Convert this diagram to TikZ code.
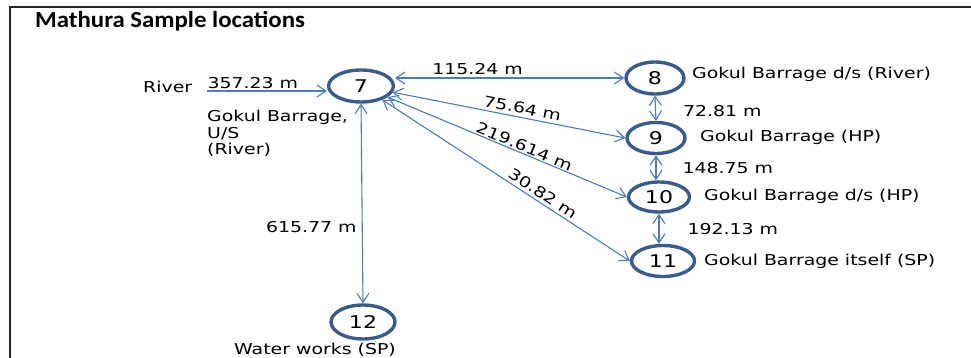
\documentclass[tikz,border=0pt]{standalone}
\usepackage{fontspec}
\setmainfont{DejaVu Sans}[FakeStretch=1.26]
\newfontfamily\titlefont{Carlito}[FakeStretch=1.08]
\usetikzlibrary{shapes.geometric,arrows.meta}
\definecolor{locblue}{HTML}{385D8A}
\definecolor{linkblue}{HTML}{4A7EBB}

\begin{document}
\begin{tikzpicture}[x=1pt,y=-1pt,
    loc/.style={ellipse,draw=locblue,line width=3.4pt,minimum width=58pt,minimum height=31pt,inner sep=0pt,font=\fontsize{17.5}{17.5}\selectfont},
    link/.style={draw=linkblue,line width=1.1pt,{Straight Barb[length=9pt,width=12pt]}-{Straight Barb[length=9pt,width=12pt]}},
    lbl/.style={font=\fontsize{15}{16.5}\selectfont,inner sep=0pt}]
  \useasboundingbox (0,0) rectangle (971,358);
  \draw[line width=1.6pt,black!85] (10,358) -- (10,7) -- (971,7);
  \node[anchor=base west,inner sep=0pt,font=\titlefont\bfseries\fontsize{23}{23}\selectfont] (title) at (35,28) {Mathura Sample locations};

  % sample points
  \node[loc,minimum width=64.8pt,minimum height=32pt] (n7) at (361,86) {7};
  \node[loc,minimum height=32pt] (n8) at (655,78) {8};
  \node[loc] (n9) at (656,138) {9};
  \node[loc,minimum width=61pt,minimum height=30pt] (n10) at (659,197) {10};
  \node[loc,minimum width=63pt] (n11) at (663,261) {11};
  \node[loc,minimum width=64pt,minimum height=34pt] (n12) at (363,322) {12};

  % names
  \node[lbl,anchor=west] (river) at (143,87) {River};
  \node[lbl,anchor=north west,align=left] (name7) at (207,110) {Gokul Barrage,\\U/S\\(River)};
  \node[lbl,anchor=west] (name8) at (692,74) {Gokul Barrage d/s (River)};
  \node[lbl,anchor=west] (name9) at (700,137) {Gokul Barrage (HP)};
  \node[lbl,anchor=west] (name10) at (704,196) {Gokul Barrage d/s (HP)};
  \node[lbl,anchor=west] (name11) at (704,261) {Gokul Barrage itself (SP)};
  \node[lbl,anchor=west] (name12) at (234,350) {Water works (SP)};

  % distances
  \coordinate (rivend) at (207,91);
  \draw[link,-{Straight Barb[length=9pt,width=12pt]}] (rivend) -- (n7.west |- rivend)
    node[lbl,pos=0,anchor=base west,yshift=2pt] {357.23 m};
  \draw[link] (n8.west) -- (n8.west -| n7.east) node[lbl,pos=0.64,above=3pt] {115.24 m};
  \draw[link] (n7) -- (n9.west) node[lbl,pos=0.55,sloped,above=3pt] {75.64 m};
  \draw[link] (n7) -- (n10.west) node[lbl,pos=0.56,sloped,above=1pt] {219.614 m};
  \draw[link] (n7) -- (n11.west) node[lbl,pos=0.63,sloped,above=3pt] {30.82 m};
  \draw[link] (n7.south) -- (n12.north) node[lbl,pos=0.62,left=5pt] {615.77 m};
  \draw[link] (n8.south) -- (n9.north) node[lbl,midway,right=27pt,yshift=-3pt] {72.81 m};
  \draw[link] (n9.south) -- (n9.south |- n10.north) node[lbl,midway,right=26pt] {148.75 m};
  \draw[link] (n10.south) -- (n10.south |- n11.north) node[lbl,midway,right=28pt] {192.13 m};
\end{tikzpicture}
\end{document}
